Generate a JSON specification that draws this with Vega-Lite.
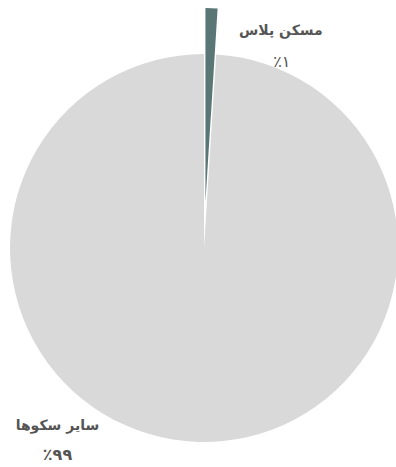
{
  "$schema": "https://vega.github.io/schema/vega-lite/v6.json",
  "width": 384,
  "height": 438,
  "padding": {"left": 12, "top": 29, "right": 0, "bottom": 0},
  "autosize": {"type": "none"},
  "background": "white",
  "view": {"stroke": null},
  "data": {
    "values": [
      {"name": "مسکن پلاس", "value": 1, "pct": "٪۱", "rank": 1},
      {"name": "سایر سکوها", "value": 99, "pct": "٪۹۹", "rank": 2}
    ]
  },
  "encoding": {
    "theta": {"field": "value", "type": "quantitative", "stack": true},
    "order": {"field": "rank", "type": "quantitative"}
  },
  "layer": [
    {
      "mark": {"type": "arc", "outerRadius": 194, "innerRadius": 0},
      "encoding": {
        "color": {"field": "name", "type": "nominal", "legend": null,
          "scale": {"domain": ["مسکن پلاس", "سایر سکوها"], "range": ["#5a7775", "#d9d9d9"]}},
        "opacity": {"condition": {"test": "datum.name === 'مسکن پلاس'", "value": 0}, "value": 1}
      }
    },
    {
      "mark": {"type": "arc", "outerRadius": 240, "innerRadius": 46, "padAngle": 0.012},
      "encoding": {
        "color": {"field": "name", "type": "nominal", "legend": null,
          "scale": {"domain": ["مسکن پلاس", "سایر سکوها"], "range": ["#5a7775", "#d9d9d9"]}},
        "opacity": {"condition": {"test": "datum.name === 'مسکن پلاس'", "value": 1}, "value": 0}
      }
    },
    {
      "mark": {"type": "text", "radius": 217, "dx": 70, "font": "DejaVu Sans", "fontSize": 14, "fontWeight": "bold", "color": "#555555"},
      "encoding": {
        "text": {"condition": {"test": "datum.name === 'مسکن پلاس'", "field": "name", "type": "nominal"}, "value": ""}
      }
    },
    {
      "mark": {"type": "text", "radius": 186, "dx": 72, "font": "DejaVu Sans", "fontSize": 16, "color": "#555555"},
      "encoding": {
        "text": {"condition": {"test": "datum.name === 'مسکن پلاس'", "field": "pct", "type": "nominal"}, "value": ""}
      }
    },
    {
      "mark": {"type": "text", "radius": 178, "dx": -141, "font": "DejaVu Sans", "fontSize": 14, "fontWeight": "bold", "color": "#555555"},
      "encoding": {
        "text": {"condition": {"test": "datum.name === 'سایر سکوها'", "field": "name", "type": "nominal"}, "value": ""}
      }
    },
    {
      "mark": {"type": "text", "radius": 207, "dx": -140, "font": "DejaVu Sans", "fontSize": 16, "fontWeight": "bold", "color": "#555555"},
      "encoding": {
        "text": {"condition": {"test": "datum.name === 'سایر سکوها'", "field": "pct", "type": "nominal"}, "value": ""}
      }
    }
  ]
}
